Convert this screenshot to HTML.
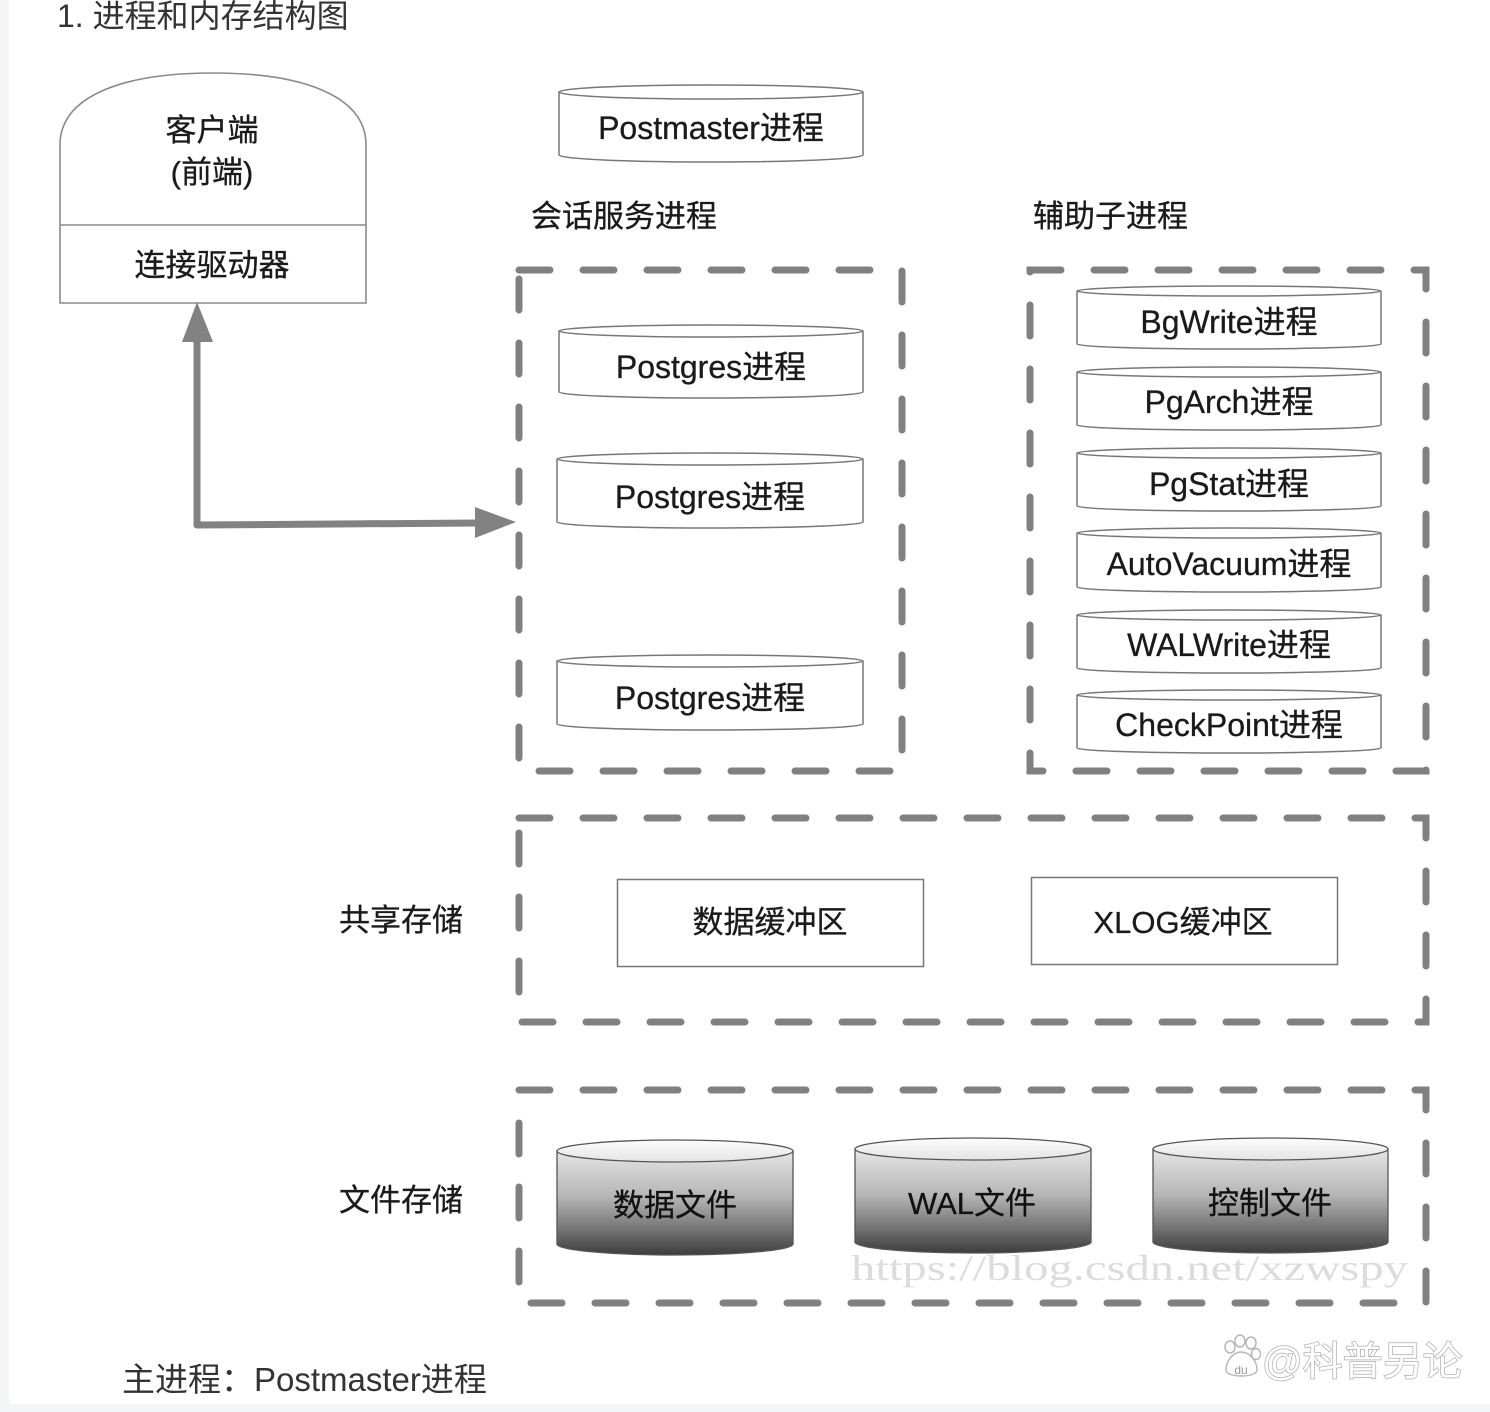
<!DOCTYPE html>
<html><head><meta charset="utf-8"><style>
html,body{margin:0;padding:0;background:#fff;}
body{width:1490px;height:1412px;overflow:hidden;position:relative;}
svg{display:block;}
text{font-family:"Liberation Sans","Noto Sans CJK SC",sans-serif;}
</style></head><body>
<svg width="1490" height="1412" viewBox="0 0 1490 1412" xmlns="http://www.w3.org/2000/svg">
<defs>
<linearGradient id="body" x1="0" y1="0" x2="0" y2="1">
<stop offset="0" stop-color="#e6e6e6"/>
<stop offset="0.45" stop-color="#b4b4b4"/>
<stop offset="0.8" stop-color="#6a6a6a"/>
<stop offset="1" stop-color="#3c3c3c"/>
</linearGradient>
<linearGradient id="top" x1="0" y1="0" x2="0" y2="1">
<stop offset="0" stop-color="#fdfdfd"/>
<stop offset="1" stop-color="#e4e4e4"/>
</linearGradient>
</defs>
<rect x="0" y="0" width="1490" height="1412" fill="#fff"/>
<rect x="0" y="0" width="9" height="1412" fill="#f4f5f7"/>
<rect x="0" y="1404" width="1490" height="8" fill="#f4f5f7"/>

<text x="57" y="27" font-size="32" fill="#333">1. 进程和内存结构图</text>

<!-- client -->
<g fill="#fff" stroke="#8a8a8a" stroke-width="1.6">
<path d="M60,303 L60,145 C60,95 125,73 213,73 C301,73 366,95 366,145 L366,303 Z"/>
<line x1="60" y1="225" x2="366" y2="225"/>
</g>
<g font-size="31" fill="#1a1a1a" text-anchor="middle" stroke="#1a1a1a" stroke-width="0.3">
<text x="212" y="141">客户端</text>
<text x="212" y="183">(前端)</text>
<text x="212" y="276">连接驱动器</text>
</g>

<!-- arrow -->
<g stroke="#828282" fill="none" stroke-width="7" stroke-linejoin="round">
<polyline points="197,338 197,525 478,523"/>
</g>
<g fill="#828282">
<polygon points="197,302 182,342 213,342"/>
<polygon points="516,522 475,507 475,538"/>
</g>

<!-- cylinders (process) -->
<g fill="#fff" stroke="#777" stroke-width="1.5">
<path d="M559,92 L559,155 A152,7 0 0 0 863,155 L863,92"/>
<ellipse cx="711" cy="92" rx="152" ry="7"/>
<path d="M559,331 L559,392 A152,6 0 0 0 863,392 L863,331"/>
<ellipse cx="711" cy="331" rx="152" ry="6"/>
<path d="M557,459 L557,522 A153,6 0 0 0 863,522 L863,459"/>
<ellipse cx="710" cy="459" rx="153" ry="6"/>
<path d="M557,661 L557,724 A153,6 0 0 0 863,724 L863,661"/>
<ellipse cx="710" cy="661" rx="153" ry="6"/>

<path d="M1077,291 L1077,344 A152,5 0 0 0 1381,344 L1381,291"/>
<ellipse cx="1229" cy="291" rx="152" ry="5"/>
<path d="M1077,372 L1077,425 A152,5 0 0 0 1381,425 L1381,372"/>
<ellipse cx="1229" cy="372" rx="152" ry="5"/>
<path d="M1077,453 L1077,506 A152,5 0 0 0 1381,506 L1381,453"/>
<ellipse cx="1229" cy="453" rx="152" ry="5"/>
<path d="M1077,533 L1077,587 A152,5 0 0 0 1381,587 L1381,533"/>
<ellipse cx="1229" cy="533" rx="152" ry="5"/>
<path d="M1077,615 L1077,668 A152,5 0 0 0 1381,668 L1381,615"/>
<ellipse cx="1229" cy="615" rx="152" ry="5"/>
<path d="M1077,695 L1077,748 A152,5 0 0 0 1381,748 L1381,695"/>
<ellipse cx="1229" cy="695" rx="152" ry="5"/>
</g>

<g font-size="32" fill="#1a1a1a" text-anchor="middle" stroke="#1a1a1a" stroke-width="0.3">
<text x="711" y="139">Postmaster进程</text>
<text x="711" y="378">Postgres进程</text>
<text x="710" y="508">Postgres进程</text>
<text x="710" y="709">Postgres进程</text>
<text x="1229" y="333">BgWrite进程</text>
<text x="1229" y="413">PgArch进程</text>
<text x="1229" y="495">PgStat进程</text>
<text x="1229" y="575">AutoVacuum进程</text>
<text x="1229" y="656">WALWrite进程</text>
<text x="1229" y="736">CheckPoint进程</text>
</g>
<g font-size="31" fill="#1a1a1a" stroke="#1a1a1a" stroke-width="0.3">
<text x="531" y="227">会话服务进程</text>
<text x="1033" y="227">辅助子进程</text>
<text x="339" y="931">共享存储</text>
<text x="339" y="1211">文件存储</text>
</g>

<!-- dashed boxes -->
<g fill="none" stroke="#808080" stroke-width="7" stroke-linecap="round" stroke-dasharray="31 33">
<path d="M519,270 L902,270 L902,771 L519,771 Z"/>
<path d="M1030,270 L1426,270 L1426,771 L1030,771 Z"/>
<path d="M519,818 L1426,818 L1426,1022 L519,1022 Z"/>
<path d="M519,1090 L1426,1090 L1426,1303 L519,1303 Z"/>
</g>

<!-- shared buffers -->
<g fill="#fff" stroke="#777" stroke-width="1.5">
<rect x="617.5" y="879.5" width="306" height="87"/>
<rect x="1031.5" y="877.5" width="306" height="87"/>
</g>
<g font-size="31" fill="#1a1a1a" text-anchor="middle" stroke="#1a1a1a" stroke-width="0.3">
<text x="770" y="933">数据缓冲区</text>
<text x="1183" y="933">XLOG缓冲区</text>
</g>

<!-- file cylinders -->
<g stroke="#555" stroke-width="1.3">
<path d="M557,1151 L557,1244 A118,11 0 0 0 793,1244 L793,1151 Z" fill="url(#body)"/>
<ellipse cx="675" cy="1151" rx="118" ry="11" fill="url(#top)"/>
<path d="M855,1149 L855,1242 A118,11 0 0 0 1091,1242 L1091,1149 Z" fill="url(#body)"/>
<ellipse cx="973" cy="1149" rx="118" ry="11" fill="url(#top)"/>
<path d="M1153,1149 L1153,1242 A117.5,11 0 0 0 1388,1242 L1388,1149 Z" fill="url(#body)"/>
<ellipse cx="1270.5" cy="1149" rx="117.5" ry="11" fill="url(#top)"/>
</g>
<g font-size="31" fill="#111" text-anchor="middle" stroke="#111" stroke-width="0.3">
<text x="675" y="1216">数据文件</text>
<text x="972" y="1214">WAL文件</text>
<text x="1270" y="1214">控制文件</text>
</g>

<!-- watermarks -->
<text x="851" y="1280" font-size="36" fill="#dcdcdc" textLength="557" lengthAdjust="spacingAndGlyphs" style="font-family:'Liberation Serif',serif">https://blog.csdn.net/xzwspy</text>

<g fill="#fff" stroke="#b5b5b5" stroke-width="1.4">
<ellipse cx="1230" cy="1347" rx="5" ry="6"/>
<ellipse cx="1240" cy="1341" rx="5" ry="6"/>
<ellipse cx="1251" cy="1343" rx="5" ry="6"/>
<ellipse cx="1256" cy="1354" rx="4.5" ry="5.5"/>
<path d="M1226,1370 C1226,1360 1234,1352 1241,1352 C1249,1352 1257,1360 1257,1370 C1257,1378 1226,1378 1226,1370 Z"/>
</g>
<text x="1241" y="1374" font-size="12" fill="#999" text-anchor="middle">du</text>
<text x="1262" y="1375" font-size="40" fill="#fff" stroke="#b0b0b0" stroke-width="1.5" paint-order="stroke">@科普另论</text>

<text x="122" y="1391" font-size="33" fill="#333">主进程：Postmaster进程</text>
</svg>
</body></html>
